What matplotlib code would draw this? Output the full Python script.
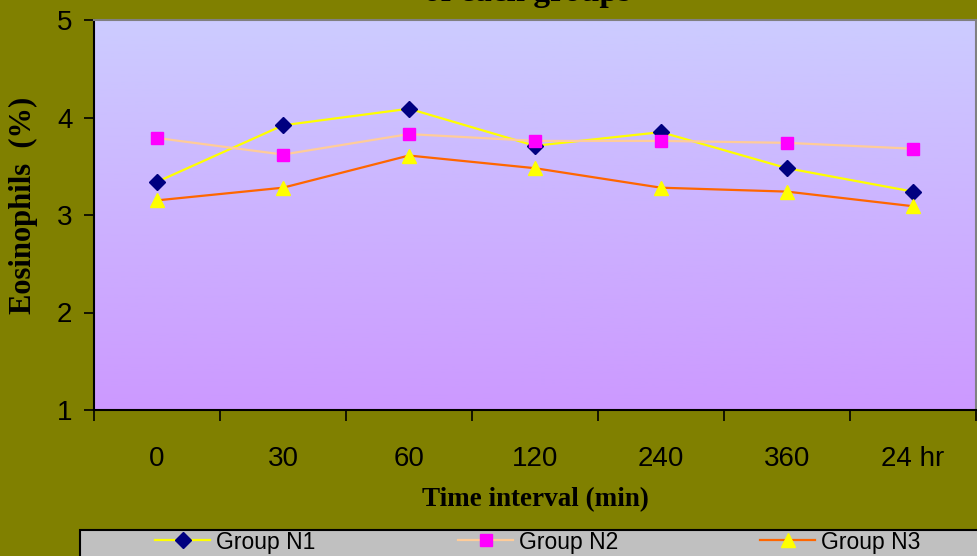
import matplotlib
matplotlib.use("Agg")
import matplotlib.pyplot as plt
import numpy as np
from matplotlib.colors import LinearSegmentedColormap
from matplotlib.patches import Rectangle

categories = ["0", "30", "60", "120", "240", "360", "24 hr"]
group_n1 = [3.34, 3.92, 4.09, 3.71, 3.85, 3.48, 3.24]
group_n2 = [3.79, 3.62, 3.83, 3.76, 3.76, 3.74, 3.68]
group_n3 = [3.15, 3.28, 3.61, 3.48, 3.28, 3.24, 3.09]
series_names = ["Group N1", "Group N2", "Group N3"]
y_ticks = [1, 2, 3, 4, 5]

W, H = 977, 556
fig = plt.figure(figsize=(W / 100, H / 100), dpi=100)
fig.patch.set_facecolor("#808000")

ax = fig.add_axes([94 / W, 1 - 410 / H, (976 - 94) / W, (410 - 20) / H])
ax.set_xlim(-0.5, len(categories) - 0.5)
ax.set_ylim(1, 5)

# gradient background
cmap = LinearSegmentedColormap.from_list("bg", ["#CC99FF", "#CCCCFF"])
grad = np.linspace(0, 1, 256).reshape(-1, 1)
ax.imshow(grad, aspect="auto", cmap=cmap, origin="lower",
          extent=[-0.5, len(categories) - 0.5, 1, 5], zorder=0)

x = np.arange(len(categories))
styles = [
    dict(color="#FFFF00", marker="D", ms=8, mfc="#000080", mec="#000080"),
    dict(color="#FFCC99", marker="s", ms=8, mfc="#FF00FF", mec="#FF00FF"),
    dict(color="#FF6600", marker="^", ms=10, mfc="#FFFF00", mec="#FFFF00"),
]
lines = []
for vals, name, st in zip([group_n1, group_n2, group_n3], series_names, styles):
    ln, = ax.plot(x, vals, lw=1.6, label=name, zorder=3, **st)
    lines.append(ln)

for s in ["top", "right"]:
    ax.spines[s].set_color("#808080")
    ax.spines[s].set_linewidth(1.5)
for s in ["left", "bottom"]:
    ax.spines[s].set_color("black")
    ax.spines[s].set_linewidth(1.5)

ax.set_yticks(y_ticks)
ax.set_yticklabels([str(v) for v in y_ticks], fontsize=20, family="Liberation Sans")
ax.tick_params(axis="y", direction="out", length=7, width=1.2, pad=8.5)

ax.set_xticks(x)
ax.set_xticklabels(categories, fontsize=20, family="Liberation Sans")
ax.tick_params(axis="x", which="major", length=0, pad=26)
ax.set_xticks(np.arange(-0.5, len(categories), 1), minor=True)
ax.tick_params(axis="x", which="minor", direction="out", length=8, width=1.2)

ax.set_ylabel("Eosinophils  (%)", fontsize=22, fontweight="bold",
              family="Liberation Serif")
ax.yaxis.set_label_coords((38 - 94) / 882, (410 - 205) / 390)
ax.set_xlabel("Time interval (min)", fontsize=19.5, fontweight="bold",
              family="Liberation Serif", labelpad=11)

fig.text(527 / W, 1 - 1 / H, "of each groups", ha="center", va="baseline",
         fontsize=24, fontweight="bold", family="Liberation Serif")

# legend box
fig.patches.append(Rectangle((80 / W, -0.02), (1000 - 80) / W, (556 - 530) / H + 0.02,
                             transform=fig.transFigure, facecolor="#C0C0C0",
                             edgecolor="black", linewidth=1.5, zorder=1))
starts = [155, 458, 760]
for ln, name, xs in zip(lines, series_names, starts):
    lg = fig.legend([ln], [name], loc="center left",
                    bbox_to_anchor=(xs / W, 1 - 542 / H), frameon=False,
                    prop={"family": "Liberation Sans", "size": 16.5},
                    handlelength=2.4, handletextpad=0.25, borderpad=0,
                    borderaxespad=0)
    lg.set_zorder(2)

fig.savefig("out.png", dpi=100, facecolor=fig.get_facecolor())
